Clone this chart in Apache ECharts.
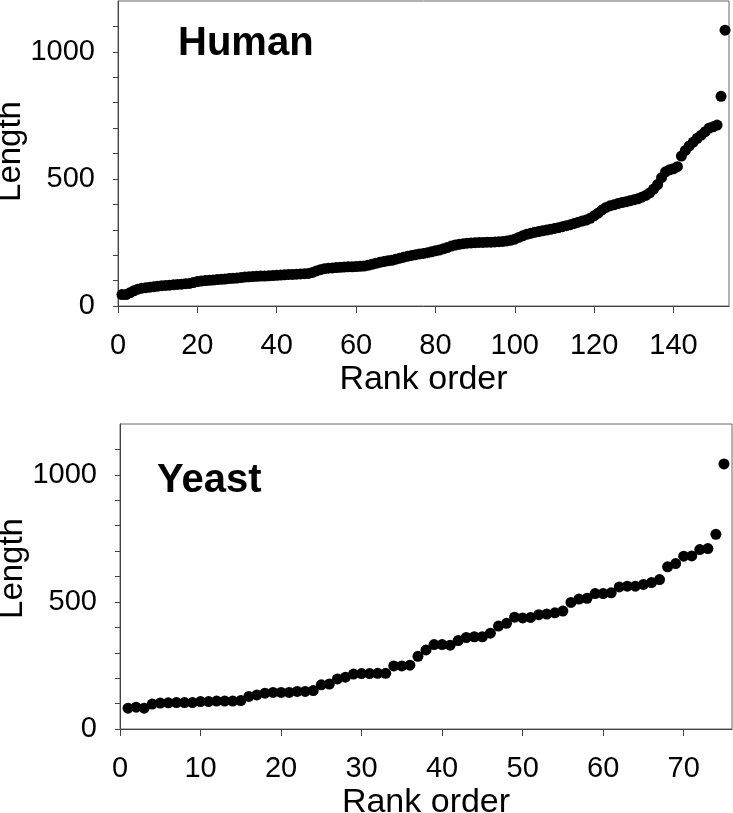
<!DOCTYPE html>
<html>
<head>
<meta charset="UTF-8">
<title>Rank order vs Length</title>
<script src="https://cdn.jsdelivr.net/npm/echarts@6/dist/echarts.min.js" type="text/javascript"></script>
<style>
  html, body { margin: 0; padding: 0; background: #fff; }
</style>
</head>
<body>
<div id="main" style="width:733px;height:813px;"></div>
<script>
// 人类 (Human) 按长度排序, rank 1..153
var humanLength = [
  45, 45, 52, 60, 66, 70, 72, 74, 76, 78,
  80, 81, 82, 84, 85, 86, 88, 89, 92, 96,
  98, 100, 101, 102, 104, 105, 106, 108, 109, 110, 112, 114,
  115, 116, 117, 118, 118, 119, 120, 121, 122, 123, 124, 124, 125, 126, 127, 128,
  132, 138, 143, 147, 149, 150, 151, 152,
  153, 154, 154, 155, 156, 157, 160, 164, 168, 172,
  175, 178, 180, 184, 188, 192, 196, 199, 202, 205, 207,
  210, 213, 217, 220, 225, 230, 236, 240, 243, 245, 247,
  248, 249, 250, 250, 251, 251, 252, 253, 254, 256, 259,
  263, 270, 276, 282, 286, 290, 293, 296, 299, 302, 305, 308,
  312, 316, 320, 325, 330, 334, 338, 345, 355, 365, 378,
  388, 394, 398, 403, 407, 410, 414, 418, 422, 428, 435,
  445, 460, 478, 505, 528, 536, 540, 548,
  590, 612, 630, 645, 660, 672, 686, 700, 705, 712, 825, 1085
];

// 酵母 (Yeast), rank 1..75
var yeastLength = [
  82, 86, 82, 98, 102, 103, 104, 104, 104, 108,
  108, 110, 110, 110, 112, 128, 134, 141, 144, 144,
  144, 148, 148, 151, 174, 177, 197, 204, 216, 218,
  218, 219, 219, 248, 248, 251, 286, 311, 332, 332,
  330, 348, 360, 363, 363, 377, 405, 416, 440, 437,
  439, 450, 452, 457, 464, 498, 511, 514, 533, 533,
  536, 559, 562, 562, 569, 576, 588, 638, 651, 680,
  681, 706, 710, 766, 1043
];

var humanXTicks = [0, 20, 40, 60, 80, 100, 120, 140];
var yeastXTicks = [0, 10, 20, 30, 40, 50, 60, 70];
var yTicks = [0, 100, 200, 300, 400, 500, 600, 700, 800, 900, 1000, 1100];
var yLabels = [0, 500, 1000];

function toPoints(arr) {
  var pts = [];
  for (var i = 0; i < arr.length; i++) {
    pts.push([i + 1, arr[i]]);
  }
  return pts;
}

var font = '"Liberation Sans", Arial, sans-serif';
var lineCol = '#444';

function plain(v) {
  return String(v);
}

function xAxisOf(idx, max, ticks) {
  return {
    gridIndex: idx,
    type: 'value',
    min: 0,
    max: max,
    name: 'Rank order',
    nameLocation: 'middle',
    nameGap: 57,
    nameMoveOverlap: false,
    nameTextStyle: { fontFamily: font, fontSize: 34, color: '#000' },
    axisLine: { show: true, onZero: false, lineStyle: { color: lineCol, width: 1 } },
    axisTick: { show: true, inside: false, length: 7, customValues: ticks, lineStyle: { color: lineCol } },
    axisLabel: { margin: 25, fontFamily: font, fontSize: 29, color: '#000', customValues: ticks, formatter: plain },
    splitLine: { show: false }
  };
}

// shift: 名称上移量（像素）
function yAxisOf(idx, shift) {
  return {
    gridIndex: idx,
    type: 'value',
    min: 0,
    max: 1200,
    name: 'Length',
    nameLocation: 'middle',
    nameGap: 91,
    nameMoveOverlap: false,
    nameTextStyle: { fontFamily: font, fontSize: 33, color: '#000', padding: [0, 0, 0, shift * 2] },
    axisLine: { show: true, onZero: false, lineStyle: { color: lineCol, width: 1 } },
    axisTick: { show: true, inside: false, length: 5, customValues: yTicks, lineStyle: { color: lineCol } },
    axisLabel: { margin: 23, fontFamily: font, fontSize: 29, color: '#000', customValues: yLabels, formatter: plain },
    splitLine: { show: false }
  };
}

var myChart = echarts.init(document.getElementById('main'), null, { renderer: 'canvas' });

var option = {
  backgroundColor: '#fff',
  animation: false,
  title: [
    { text: 'Human', left: 178, top: 24, padding: 0,
      textStyle: { fontFamily: font, fontSize: 40, fontWeight: 'bold', color: '#000' } },
    { text: 'Yeast', left: 157, top: 461, padding: 0,
      textStyle: { fontFamily: font, fontSize: 40, fontWeight: 'bold', color: '#000' } }
  ],
  grid: [
    { left: 118, right: 4, top: 1, height: 305, show: true, borderColor: '#666', borderWidth: 1,
      outerBoundsMode: 'none', containLabel: false },
    { left: 120, right: 1, top: 424, height: 305, show: true, borderColor: '#666', borderWidth: 1,
      outerBoundsMode: 'none', containLabel: false }
  ],
  xAxis: [xAxisOf(0, 154, humanXTicks), xAxisOf(1, 76, yeastXTicks)],
  yAxis: [yAxisOf(0, 2), yAxisOf(1, 8)],
  series: [
    {
      name: 'Human', type: 'scatter', xAxisIndex: 0, yAxisIndex: 0,
      symbol: 'circle', symbolSize: 11,
      itemStyle: { color: '#000', opacity: 1 },
      data: toPoints(humanLength)
    },
    {
      name: 'Yeast', type: 'scatter', xAxisIndex: 1, yAxisIndex: 1,
      symbol: 'circle', symbolSize: 11,
      itemStyle: { color: '#000', opacity: 1 },
      data: toPoints(yeastLength)
    }
  ]
};

myChart.setOption(option);
</script>
</body>
</html>
